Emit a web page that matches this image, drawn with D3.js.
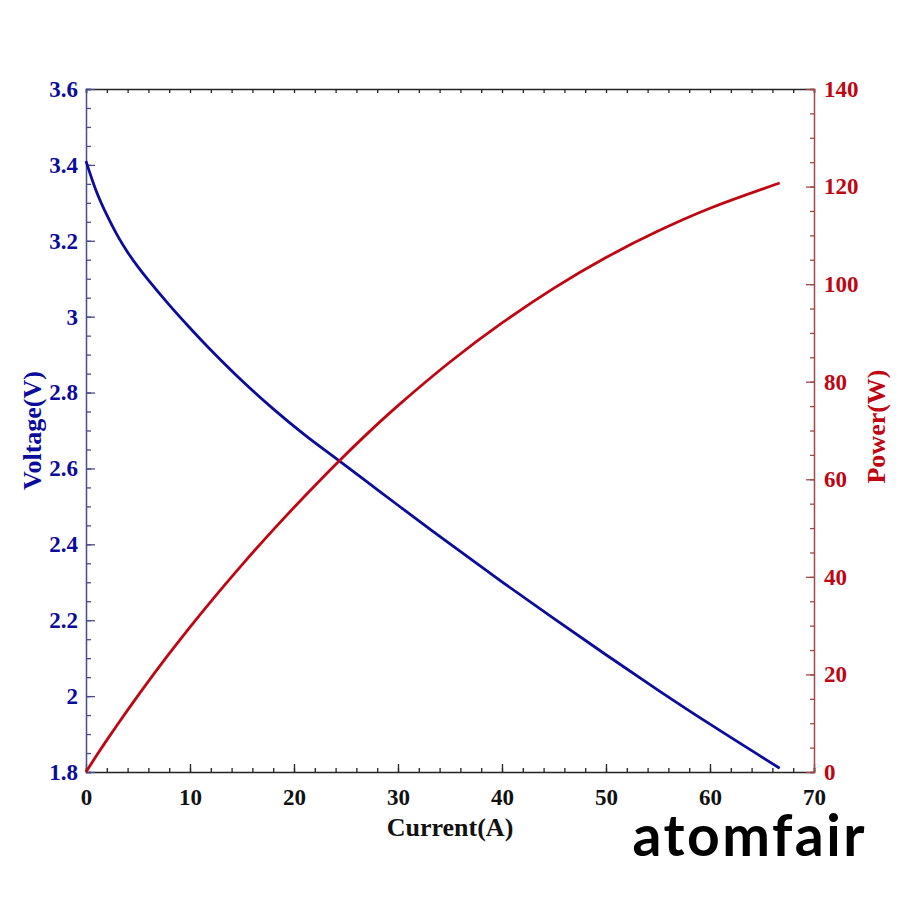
<!DOCTYPE html>
<html>
<head>
<meta charset="utf-8">
<script src="https://cdn.jsdelivr.net/npm/d3@7"></script>
<style>
  body { margin: 0; background: #fff; }
  svg text { font-family: "Liberation Serif", "Times New Roman", serif; font-weight: bold; }
</style>
</head>
<body>
<svg id="plot" width="900" height="900"></svg>
<script>
// values
const current = [0, 1, 2, 3, 4, 5, 6, 8, 10, 12, 15, 18, 21, 24, 27, 30, 35, 40, 45, 50, 55, 60, 66.7];
const voltage = [3.41, 3.33, 3.268, 3.215, 3.17, 3.131, 3.096, 3.031, 2.97, 2.912, 2.831, 2.757, 2.689, 2.627, 2.565, 2.503, 2.401, 2.301, 2.204, 2.109, 2.016, 1.926, 1.81];
const power = [0, 3.33, 6.54, 9.65, 12.68, 15.66, 18.58, 24.25, 29.7, 34.94, 42.47, 49.63, 56.47, 63.05, 69.26, 75.09, 84.04, 92.04, 99.18, 105.45, 110.88, 115.56, 120.73];

const xTicks = [0, 10, 20, 30, 40, 50, 60, 70];
const vTicks = [1.8, 2, 2.2, 2.4, 2.6, 2.8, 3, 3.2, 3.4, 3.6];
const pTicks = [0, 20, 40, 60, 80, 100, 120, 140];

const blue = '#0c0c9c';
const red = '#c00612';

const margin = { top: 89, right: 86, bottom: 128, left: 86 };
const width = 900 - margin.left - margin.right;
const height = 900 - margin.top - margin.bottom;

const svg = d3.select('#plot')
  .append('g')
  .attr('transform', `translate(${margin.left}, ${margin.top})`);

const x = d3.scaleLinear().domain([0, 70]).range([0, width]);
const yV = d3.scaleLinear().domain([1.8, 3.6]).range([height, 0]);
const yP = d3.scaleLinear().domain([0, 140]).range([height, 0]);

const fmtV = d => (Number.isInteger(d) ? d.toString() : d.toFixed(1));

function styleAxis(g, lineColor, textColor) {
  g.select('.domain').attr('stroke', lineColor).attr('stroke-width', 1.5);
  g.selectAll('.tick line').attr('stroke', lineColor).attr('stroke-width', 1.3);
  g.selectAll('.tick text').attr('fill', textColor).style('font-size', '23px');
}

// bottom: minor ticks, then major ticks with labels
svg.append('g')
  .attr('transform', `translate(0, ${height})`)
  .call(d3.axisBottom(x).tickValues(d3.range(0, 70.1, 2)).tickSize(-4).tickFormat(''))
  .call(g => styleAxis(g, '#222', '#111'));
svg.append('g')
  .attr('transform', `translate(0, ${height})`)
  .call(d3.axisBottom(x).tickValues(xTicks).tickSize(-8).tickPadding(17).tickSizeOuter(0))
  .call(g => styleAxis(g, '#222', '#111'))
  .call(g => g.select('.domain').remove());

// top (mirror ticks)
svg.append('g')
  .call(d3.axisTop(x).tickValues(d3.range(0, 70.1, 2)).tickSize(-4).tickFormat(''))
  .call(g => styleAxis(g, '#222', '#111'));

// left
svg.append('g')
  .call(d3.axisLeft(yV).tickValues(d3.range(1.8, 3.601, 0.05)).tickSize(-5).tickFormat(''))
  .call(g => styleAxis(g, '#4a4a8c', blue));
svg.append('g')
  .call(d3.axisLeft(yV).tickValues(vTicks).tickSize(-9).tickPadding(8).tickFormat(fmtV).tickSizeOuter(0))
  .call(g => styleAxis(g, '#4a4a8c', blue))
  .call(g => g.select('.domain').remove());

// right
svg.append('g')
  .attr('transform', `translate(${width}, 0)`)
  .call(d3.axisRight(yP).tickValues(d3.range(0, 140.1, 5)).tickSize(-4).tickFormat(''))
  .call(g => styleAxis(g, '#a04848', red));
svg.append('g')
  .attr('transform', `translate(${width}, 0)`)
  .call(d3.axisRight(yP).tickValues(pTicks).tickSize(-8).tickPadding(10).tickSizeOuter(0))
  .call(g => styleAxis(g, '#a04848', red))
  .call(g => g.select('.domain').remove());

// curves
const data = current.map((c, i) => ({ c, v: voltage[i], p: power[i] }));

svg.append('path')
  .datum(data)
  .attr('fill', 'none')
  .attr('stroke', blue)
  .attr('stroke-width', 2.8)
  .attr('d', d3.line().x(d => x(d.c)).y(d => yV(d.v)).curve(d3.curveCatmullRom.alpha(0.5)));

svg.append('path')
  .datum(data)
  .attr('fill', 'none')
  .attr('stroke', red)
  .attr('stroke-width', 2.8)
  .attr('d', d3.line().x(d => x(d.c)).y(d => yP(d.p)).curve(d3.curveCatmullRom.alpha(0.5)));

// axis titles
svg.append('text')
  .attr('x', width / 2)
  .attr('y', height + 64)
  .attr('text-anchor', 'middle')
  .attr('fill', '#111')
  .style('font-size', '26px')
  .text('Current(A)');

svg.append('text')
  .attr('transform', `translate(-45, ${height / 2}) rotate(-90)`)
  .attr('text-anchor', 'middle')
  .attr('fill', blue)
  .style('font-size', '26px')
  .text('Voltage(V)');

svg.append('text')
  .attr('transform', `translate(${width + 71}, ${height / 2 - 4}) rotate(-90)`)
  .attr('text-anchor', 'middle')
  .attr('fill', red)
  .style('font-size', '26px')
  .text('Power(W)');

// watermark
d3.select('#plot').append('text')
  .attr('x', 867)
  .attr('y', 856)
  .attr('text-anchor', 'end')
  .attr('fill', '#000')
  .style('font-family', 'Lato, "Noto Sans", sans-serif')
  .style('font-weight', '700')
  .style('font-size', '57px')
  .style('letter-spacing', '2.5px')
  .text('atomfair');
</script>
</body>
</html>
